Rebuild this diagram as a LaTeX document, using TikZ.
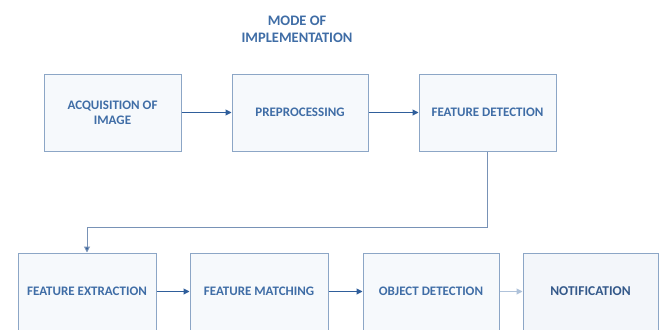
\documentclass[tikz,border=0pt]{standalone}
\usepackage{fontspec}
\setmainfont{Carlito}
\usetikzlibrary{arrows.meta}
\definecolor{txtblue}{HTML}{3F6DA6}
\definecolor{darkblue}{HTML}{34598A}
\definecolor{boxline}{HTML}{8CA6C6}
\definecolor{arrowblue}{HTML}{2F5E9B}
\definecolor{linkblue}{HTML}{7892B6}
\definecolor{paleblue}{HTML}{AFC2DA}
\definecolor{boxfill}{HTML}{F6F9FC}
\tikzset{
  stagebox/.style={draw=boxline, line width=1pt, fill=boxfill,
    minimum height=77pt, inner sep=2pt, align=center,
    text=txtblue, font=\bfseries\fontsize{13}{15}\selectfont},
  flowarrow/.style={draw=arrowblue, line width=1pt,
    -{Triangle[length=6pt,width=6pt]}},
  fadearrow/.style={draw=paleblue, line width=1pt,
    -{Triangle[length=6pt,width=6pt]}},
  linkline/.style={draw=linkblue, line width=1pt,
    -{Triangle[length=6pt,width=6pt,fill=arrowblue]}},
}
\begin{document}
\begin{tikzpicture}[x=1pt,y=-1pt]
\useasboundingbox (0,0) rectangle (663,329);
\clip (0,0) rectangle (663,329);
\fill[white] (0,0) rectangle (663,329);
\node[text=txtblue, font=\bfseries\fontsize{14.5}{17}\selectfont, align=center] (title) at (297,29) {MODE OF\\IMPLEMENTATION};
\node[stagebox, minimum width=137pt] (b1) at (112.5,112.5) {ACQUISITION OF\\IMAGE};
\node[stagebox, minimum width=136pt] (b2) at (300,112.5) {PREPROCESSING};
\node[stagebox, minimum width=137pt] (b3) at (487.5,112.5) {FEATURE DETECTION};
\node[stagebox, minimum width=138pt] (b4) at (87,291.5) {FEATURE EXTRACTION};
\node[stagebox, minimum width=138pt] (b5) at (259,291.5) {FEATURE MATCHING};
\node[stagebox, minimum width=136pt] (b6) at (431,291.5) {OBJECT DETECTION};
\node[stagebox, minimum width=135pt, fill=boxfill!70!paleblue!40!white, text=darkblue, font=\bfseries\fontsize{13.5}{15}\selectfont] (b7) at (590.5,291.5) {NOTIFICATION};
\coordinate (bend) at (487.5,227);
\draw[flowarrow] (b1) -- (b2);
\draw[flowarrow] (b2) -- (b3);
\draw[linkline] (b3.south) -- (bend) -| (b4.north);
\draw[flowarrow] (b4) -- (b5);
\draw[flowarrow] (b5) -- (b6);
\draw[fadearrow] (b6) -- (b7);
\end{tikzpicture}
\end{document}
